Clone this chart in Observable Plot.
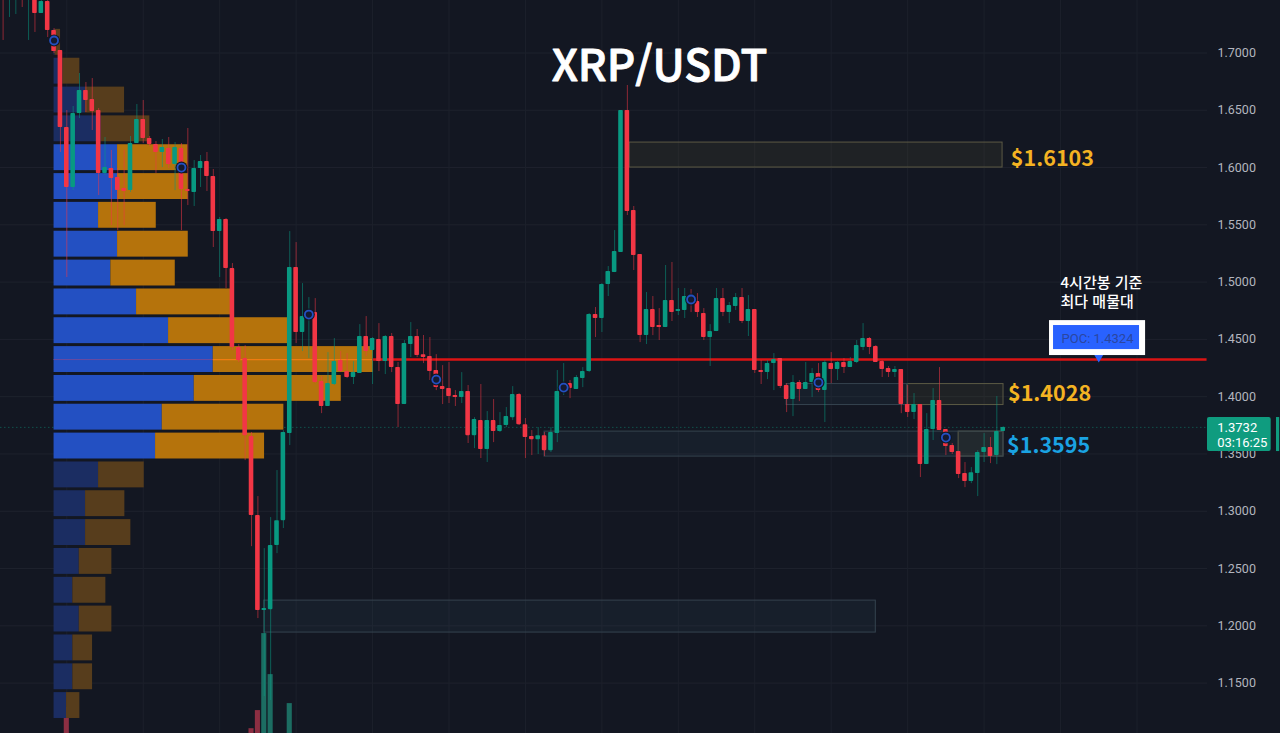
<!DOCTYPE html>
<html lang="ko">
<head>
<meta charset="utf-8">
<script src="https://cdn.jsdelivr.net/npm/d3@7"></script>
<script src="https://cdn.jsdelivr.net/npm/@observablehq/plot@0.6"></script>
<style>
html,body{margin:0;padding:0;background:#131722;overflow:hidden}
svg{display:block}
</style>
</head>
<body>
<div id="chart"></div>
<script>
const open = [
1.78,1.75,1.75,1.77,1.75,1.76,1.7345,1.7449,1.7196,1.7022,
1.6349,1.5826,1.6471,1.6672,1.6594,1.6498,1.5948,1.5991,1.5913,1.5817,
1.5799,1.6210,1.6419,1.6253,1.6201,1.6131,1.6166,1.6026,1.6166,1.5808,
1.5782,1.5991,1.6052,1.5922,1.5441,1.5546,1.5118,1.4429,1.4333,1.3652,
1.2962,1.2133,1.2141,1.2700,1.2918,1.3678,1.5127,1.4560,1.4691,1.4734,
1.4132,1.3914,1.4106,1.4315,1.4219,1.4167,1.4202,1.4525,1.4402,1.4498,
1.4306,1.4525,1.4254,1.3931,1.4455,1.4525,1.4367,1.4350,1.4228,1.4088,
1.4071,1.4010,1.3992,1.4045,1.3660,1.3791,1.3538,1.3791,1.3695,1.3748,
1.3817,1.4018,1.3756,1.3652,1.3625,1.3660,1.3529,1.3678,1.4053,1.4114,
1.4062,1.4158,1.4219,1.4717,1.4682,1.4979,1.5083,1.5258,1.6498,1.5625,
1.5241,1.4533,1.4760,1.4621,1.4603,1.4839,1.4743,1.4752,1.4865,1.4830,
1.4726,1.4516,1.4568,1.4856,1.4734,1.4787,1.4865,1.4656,1.4760,1.4228,
1.4210,1.4289,1.4333,1.4097,1.3975,1.4123,1.4062,1.4123,1.4202,1.4053,
1.4289,1.4237,1.4298,1.4254,1.4298,1.4429,1.4507,1.4437,1.4306,1.4245,
1.4210,1.4237,1.3931,1.3861,1.3931,1.3407,1.3713,1.3966,1.3713,1.3573,
1.3521,1.3329,1.3259,1.3329,1.3512,1.3556,1.3486,1.3695];
const close = [
1.76,1.77,1.77,1.75,1.77,1.7345,1.7449,1.7196,1.7013,1.6349,
1.5826,1.6471,1.6672,1.6585,1.6489,1.5948,1.6000,1.5904,1.5799,1.5791,
1.6210,1.6419,1.6253,1.6201,1.6131,1.6175,1.6026,1.6175,1.5808,1.5791,
1.5991,1.6052,1.5922,1.5441,1.5546,1.5118,1.4429,1.4315,1.3660,1.2962,
1.2133,1.2150,1.2700,1.2918,1.3687,1.5127,1.4560,1.4699,1.4743,1.4123,
1.3914,1.4114,1.4306,1.4219,1.4167,1.4210,1.4525,1.4394,1.4507,1.4306,
1.4525,1.4254,1.3931,1.4464,1.4525,1.4359,1.4341,1.4219,1.4079,1.4062,
1.4001,1.3992,1.4045,1.3660,1.3800,1.3538,1.3791,1.3695,1.3748,1.3826,
1.4018,1.3756,1.3643,1.3625,1.3660,1.3529,1.3687,1.4045,1.4097,1.4071,
1.4167,1.4219,1.4717,1.4682,1.4979,1.5092,1.5267,1.6498,1.5616,1.5232,
1.4533,1.4760,1.4603,1.4603,1.4839,1.4734,1.4760,1.4874,1.4839,1.4734,
1.4516,1.4568,1.4856,1.4734,1.4795,1.4865,1.4656,1.4760,1.4228,1.4210,
1.4289,1.4324,1.4088,1.3975,1.4123,1.4062,1.4123,1.4202,1.4053,1.4298,
1.4237,1.4298,1.4254,1.4306,1.4446,1.4507,1.4429,1.4298,1.4237,1.4210,
1.4237,1.3931,1.3861,1.3931,1.3407,1.3713,1.3966,1.3704,1.3564,1.3512,
1.3320,1.3259,1.3337,1.3512,1.3556,1.3477,1.3695,1.3732];
const high = [
1.80,1.78,1.78,1.78,1.78,1.77,1.75,1.75,1.7214,1.7022,
1.6498,1.6533,1.6821,1.6742,1.6777,1.6515,1.6262,1.6149,1.5991,1.6149,
1.6271,1.6550,1.6585,1.6271,1.6227,1.6245,1.6262,1.6218,1.6210,1.6341,
1.6061,1.6105,1.6131,1.5983,1.5564,1.5555,1.5162,1.4455,1.4446,1.3687,
1.3128,1.2674,1.2945,1.3355,1.3704,1.5441,1.5345,1.4987,1.4865,1.4856,
1.4175,1.4385,1.4507,1.4394,1.4376,1.4306,1.4629,1.4699,1.4516,1.4638,
1.4534,1.4551,1.4298,1.4490,1.4647,1.4586,1.4534,1.4516,1.4367,1.4271,
1.4298,1.4053,1.4210,1.4097,1.3817,1.4106,1.3870,1.3975,1.3861,1.3905,
1.4088,1.4027,1.3809,1.3704,1.3730,1.3687,1.3730,1.4228,1.4289,1.4141,
1.4184,1.4254,1.4726,1.4778,1.4987,1.5136,1.5450,1.6498,1.6716,1.5660,
1.5241,1.4909,1.4874,1.4769,1.5145,1.5171,1.4944,1.4944,1.4935,1.4900,
1.4769,1.4629,1.4944,1.4944,1.4822,1.4900,1.4944,1.4882,1.4760,1.4315,
1.4315,1.4376,1.4333,1.4114,1.4184,1.4141,1.4298,1.4245,1.4289,1.4315,
1.4385,1.4306,1.4333,1.4341,1.4490,1.4638,1.4516,1.4446,1.4315,1.4263,
1.4263,1.4237,1.4097,1.4027,1.3931,1.3852,1.4071,1.4254,1.3713,1.3591,
1.3521,1.3425,1.3381,1.3529,1.3678,1.3643,1.4001,1.3738];
const low = [
1.7109,1.7310,1.7336,1.7397,1.7109,1.7179,1.7345,1.7135,1.6995,1.6131,
1.5040,1.5799,1.6428,1.6480,1.6323,1.5756,1.5930,1.5494,1.5450,1.5494,
1.5782,1.6210,1.6210,1.6183,1.5948,1.6000,1.5991,1.5799,1.5450,1.5668,
1.5660,1.5826,1.5791,1.5302,1.5040,1.4944,1.4402,1.4298,1.3442,1.2691,
1.2063,1.1382,1.1347,1.2630,1.2849,1.3573,1.4464,1.4394,1.4333,1.4114,
1.3852,1.3914,1.4097,1.4210,1.4158,1.4106,1.4202,1.4350,1.4106,1.4219,
1.4193,1.4210,1.3730,1.3931,1.4341,1.4341,1.4289,1.4141,1.4053,1.3931,
1.3940,1.3914,1.3940,1.3591,1.3547,1.3460,1.3425,1.3599,1.3687,1.3730,
1.3791,1.3748,1.3460,1.3486,1.3495,1.3477,1.3512,1.3599,1.4010,1.3983,
1.4062,1.4079,1.4210,1.4516,1.4560,1.4874,1.5083,1.5258,1.5581,1.5101,
1.4472,1.4455,1.4533,1.4490,1.4603,1.4656,1.4708,1.4682,1.4734,1.4691,
1.4490,1.4263,1.4568,1.4699,1.4638,1.4752,1.4638,1.4525,1.4202,1.4106,
1.4149,1.4053,1.4071,1.3861,1.3826,1.3957,1.4062,1.3992,1.4036,1.3774,
1.4114,1.4141,1.4202,1.4254,1.4289,1.4402,1.4367,1.4298,1.4167,1.4167,
1.4167,1.3852,1.3818,1.3800,1.3294,1.3407,1.3617,1.3704,1.3486,1.3495,
1.3285,1.3206,1.3241,1.3128,1.3425,1.3416,1.3407,1.3695];

const priceTicks = [1.15,1.20,1.25,1.30,1.35,1.40,1.45,1.50,1.55,1.60,1.65,1.70];
const timeGrid = [10,22,34,46,58,70,82,94,106,118,130,142,154,166,178];

const profileMid = [1.7093,1.6841,1.6589,1.6338,1.6086,1.5834,1.5583,1.5331,1.5079,1.4827,1.4576,1.4324,
                    1.4072,1.3821,1.3569,1.3317,1.3066,1.2814,1.2562,1.2310,1.2059,1.1807,1.1555,1.1304];
const profileBuy = [1,8.8,31.5,47.2,63.5,63.5,44.5,63.5,56.8,82.5,114.5,159.2,
                    140.2,108.2,101.5,44.5,31.5,31.5,25.2,18.8,25.2,18.8,18.8,12.5];
const profileTotal = [6.5,25.8,70.5,95.8,133.8,134.2,102.2,134.2,121.2,177,234,319.2,
                      287.2,229.8,210.5,90.2,70.8,76.8,57.8,51.8,57.8,38.5,38.5,25.8];
const valueAreaHigh = 1.62, valueAreaLow = 1.34;

const volumeIndex = [10,39,40,41,42,45];
const volumeTop = [1.1286,1.1102,1.1260,1.1932,1.1574,1.1321];

const pivotIndex = [8,28,48,68,88,108,128,148];
const pivotPrice = [1.7109,1.6000,1.4717,1.4149,1.4079,1.4848,1.4123,1.3643];

const zoneStart = [98.35,141.97,150,123,85,41];
const zoneEnd   = [156.9,157.05,157.05,142,157.05,137];
const zoneTop   = [1.6218,1.4110,1.3695,1.4110,1.3695,1.2220];
const zoneBot   = [1.6000,1.3927,1.3477,1.3927,1.3477,1.1941];
const zoneKind  = ["supply","supply","supply","demand","demand","demand"];

const levelText = ["$1.6103","$1.4028","$1.3595"];
const levelIndex = [158.2,157.75,157.6];
const levelPrice = [1.6070,1.4022,1.3568];
const levelColor = ["#f4b322","#f4b322","#1aa3e3"];

const POC = 1.4324, LAST = 1.3732;

const bg = "#131722", up = "#089981", down = "#f23645";
const candles = open.map((o,i)=>({i,o,c:close[i],h:high[i],l:low[i]}));
const up_ = d=>d.c>=d.o;
const rows = profileMid.map((m,k)=>({m,buy:profileBuy[k],total:profileTotal[k],strong:m<valueAreaHigh&&m>valueAreaLow}));
const U = 1/6.37, P0 = 8;   // profile base on the candle axis
const zones = zoneStart.map((s,k)=>({s,e:zoneEnd[k],t:zoneTop[k],b:zoneBot[k],kind:zoneKind[k]}));
const yBottom = 1.1060;
const KR = "'Noto Sans CJK KR','Noto Sans',sans-serif";

const fig = Plot.plot({
  width:1280, height:733, marginLeft:0, marginRight:73, marginTop:0, marginBottom:0,
  style:{background:bg, fontFamily:KR},
  x:{type:"linear", domain:[-0.408,189.07], axis:null},
  y:{type:"linear", domain:[yBottom,1.7458], label:null},
  marks:[
    Plot.gridY(priceTicks,{stroke:"#1e222d",strokeOpacity:1}),
    Plot.gridX(timeGrid,{stroke:"#1c202b",strokeOpacity:1}),
    Plot.ruleY([LAST],{stroke:"#0f6b5d",strokeDasharray:"1.5,2.5",strokeOpacity:.7}),
    Plot.axisY(priceTicks,{anchor:"right",tickSize:0,tickPadding:10,tickFormat:d3.format(".4f"),
      fill:"#b2b5be",fontSize:12.5,label:null,fontFamily:"Roboto,sans-serif"}),
    // volume histogram
    Plot.rect(volumeIndex.map((i,k)=>({i,t:volumeTop[k]})),{x1:d=>d.i-.4,x2:d=>d.i+.4,y1:yBottom,y2:"t",
      fill:d=>up_(candles[d.i])?"#1c6d62":"#8c2e42"}),
    // volume profile
    Plot.rect(rows,{x1:P0,x2:d=>P0+d.buy*U,y1:d=>d.m-.0113,y2:d=>d.m+.0113,fill:d=>d.strong?"#2350c2":"#1b2d62"}),
    Plot.rect(rows,{x1:d=>P0+d.buy*U,x2:d=>P0+d.total*U,y1:d=>d.m-.0113,y2:d=>d.m+.0113,fill:d=>d.strong?"#b5730c":"#573d1c"}),
    Plot.ruleY([POC],{x1:8,x2:33,stroke:"#6a4aa0",strokeWidth:1}),
    Plot.ruleY([POC],{x1:33,x2:58,stroke:"#f07c10",strokeWidth:1.2}),
    Plot.ruleY([POC],{x1:58,x2:189,stroke:"#dc1414",strokeWidth:2.4}),
    // zones
    Plot.rect(zones,{x1:"s",x2:"e",y1:"b",y2:"t",
      fill:d=>d.kind=="supply"?"#b4a050":"#4a7a9a",fillOpacity:.08,
      stroke:d=>d.kind=="supply"?"#5c5a44":"#35434f",strokeWidth:1}),
    // candles
    Plot.ruleX(candles,{x:"i",y1:"l",y2:"h",stroke:d=>up_(d)?up:down,strokeOpacity:.55,strokeWidth:1}),
    Plot.rect(candles,{x1:d=>d.i-.36,x2:d=>d.i+.36,y1:"o",y2:"c",fill:d=>up_(d)?up:down,r:0.8}),
    // pivots
    Plot.dot(pivotIndex.map((i,k)=>({i,p:pivotPrice[k]})),{x:"i",y:"p",r:6,fill:bg}),
    Plot.dot(pivotIndex.map((i,k)=>({i,p:pivotPrice[k]})),{x:"i",y:"p",r:4,fill:"#141a30",stroke:"#2350c2",strokeWidth:1.8}),
    // texts
    Plot.text(["XRP/USDT"],{x:103.05,y:1.6882,fill:"#fff",fontSize:44,fontWeight:500,stroke:"#fff",strokeWidth:.9}),
    Plot.text(levelText,{x:(d,k)=>levelIndex[k],y:(d,k)=>levelPrice[k],fill:(d,k)=>levelColor[k],
      fontSize:21.5,fontWeight:700,textAnchor:"start"}),
    Plot.text(["4시간봉 기준"],{x:166,y:1.4987,fill:"#fff",fontSize:15,textAnchor:"start",fontWeight:500}),
    Plot.text(["최다 매물대"],{x:166,y:1.4821,fill:"#fff",fontSize:15,textAnchor:"start",fontWeight:500}),
    Plot.dot([POC],{x:172,y:1.4345,symbol:"triangle",r:3.5,rotate:180,fill:"#2962ff"}),
    Plot.rect([0],{x1:164.27,x2:179.35,y1:1.4359,y2:1.4664,fill:"#fff"}),
    Plot.rect([0],{x1:164.9,x2:178.4,y1:1.4411,y2:1.4621,fill:"#2962ff"}),
    Plot.text(["POC: "+POC.toFixed(4)],{x:171.8,y:1.4507,fill:"#2b46a0",fontSize:13,fontFamily:"Roboto,sans-serif"}),
    // last price badge
    Plot.rect([0],{x1:189.07,x2:199.07,y1:1.3521,y2:1.3818,fill:"#0f9c7f",r:2}),
    Plot.rect([0],{x1:199.9,x2:200.4,y1:1.3521,y2:1.3818,fill:"#0f9c7f"}),
    Plot.text([LAST.toFixed(4)],{x:190.6,y:1.3730,fill:"#fff",fontSize:13,textAnchor:"start",fontFamily:"Roboto,sans-serif"}),
    Plot.text(["03:16:25"],{x:190.6,y:1.3599,fill:"#fff",fontSize:13,textAnchor:"start",fontFamily:"Roboto,sans-serif"})
  ]
});
document.getElementById("chart").append(fig);
</script>
</body>
</html>
